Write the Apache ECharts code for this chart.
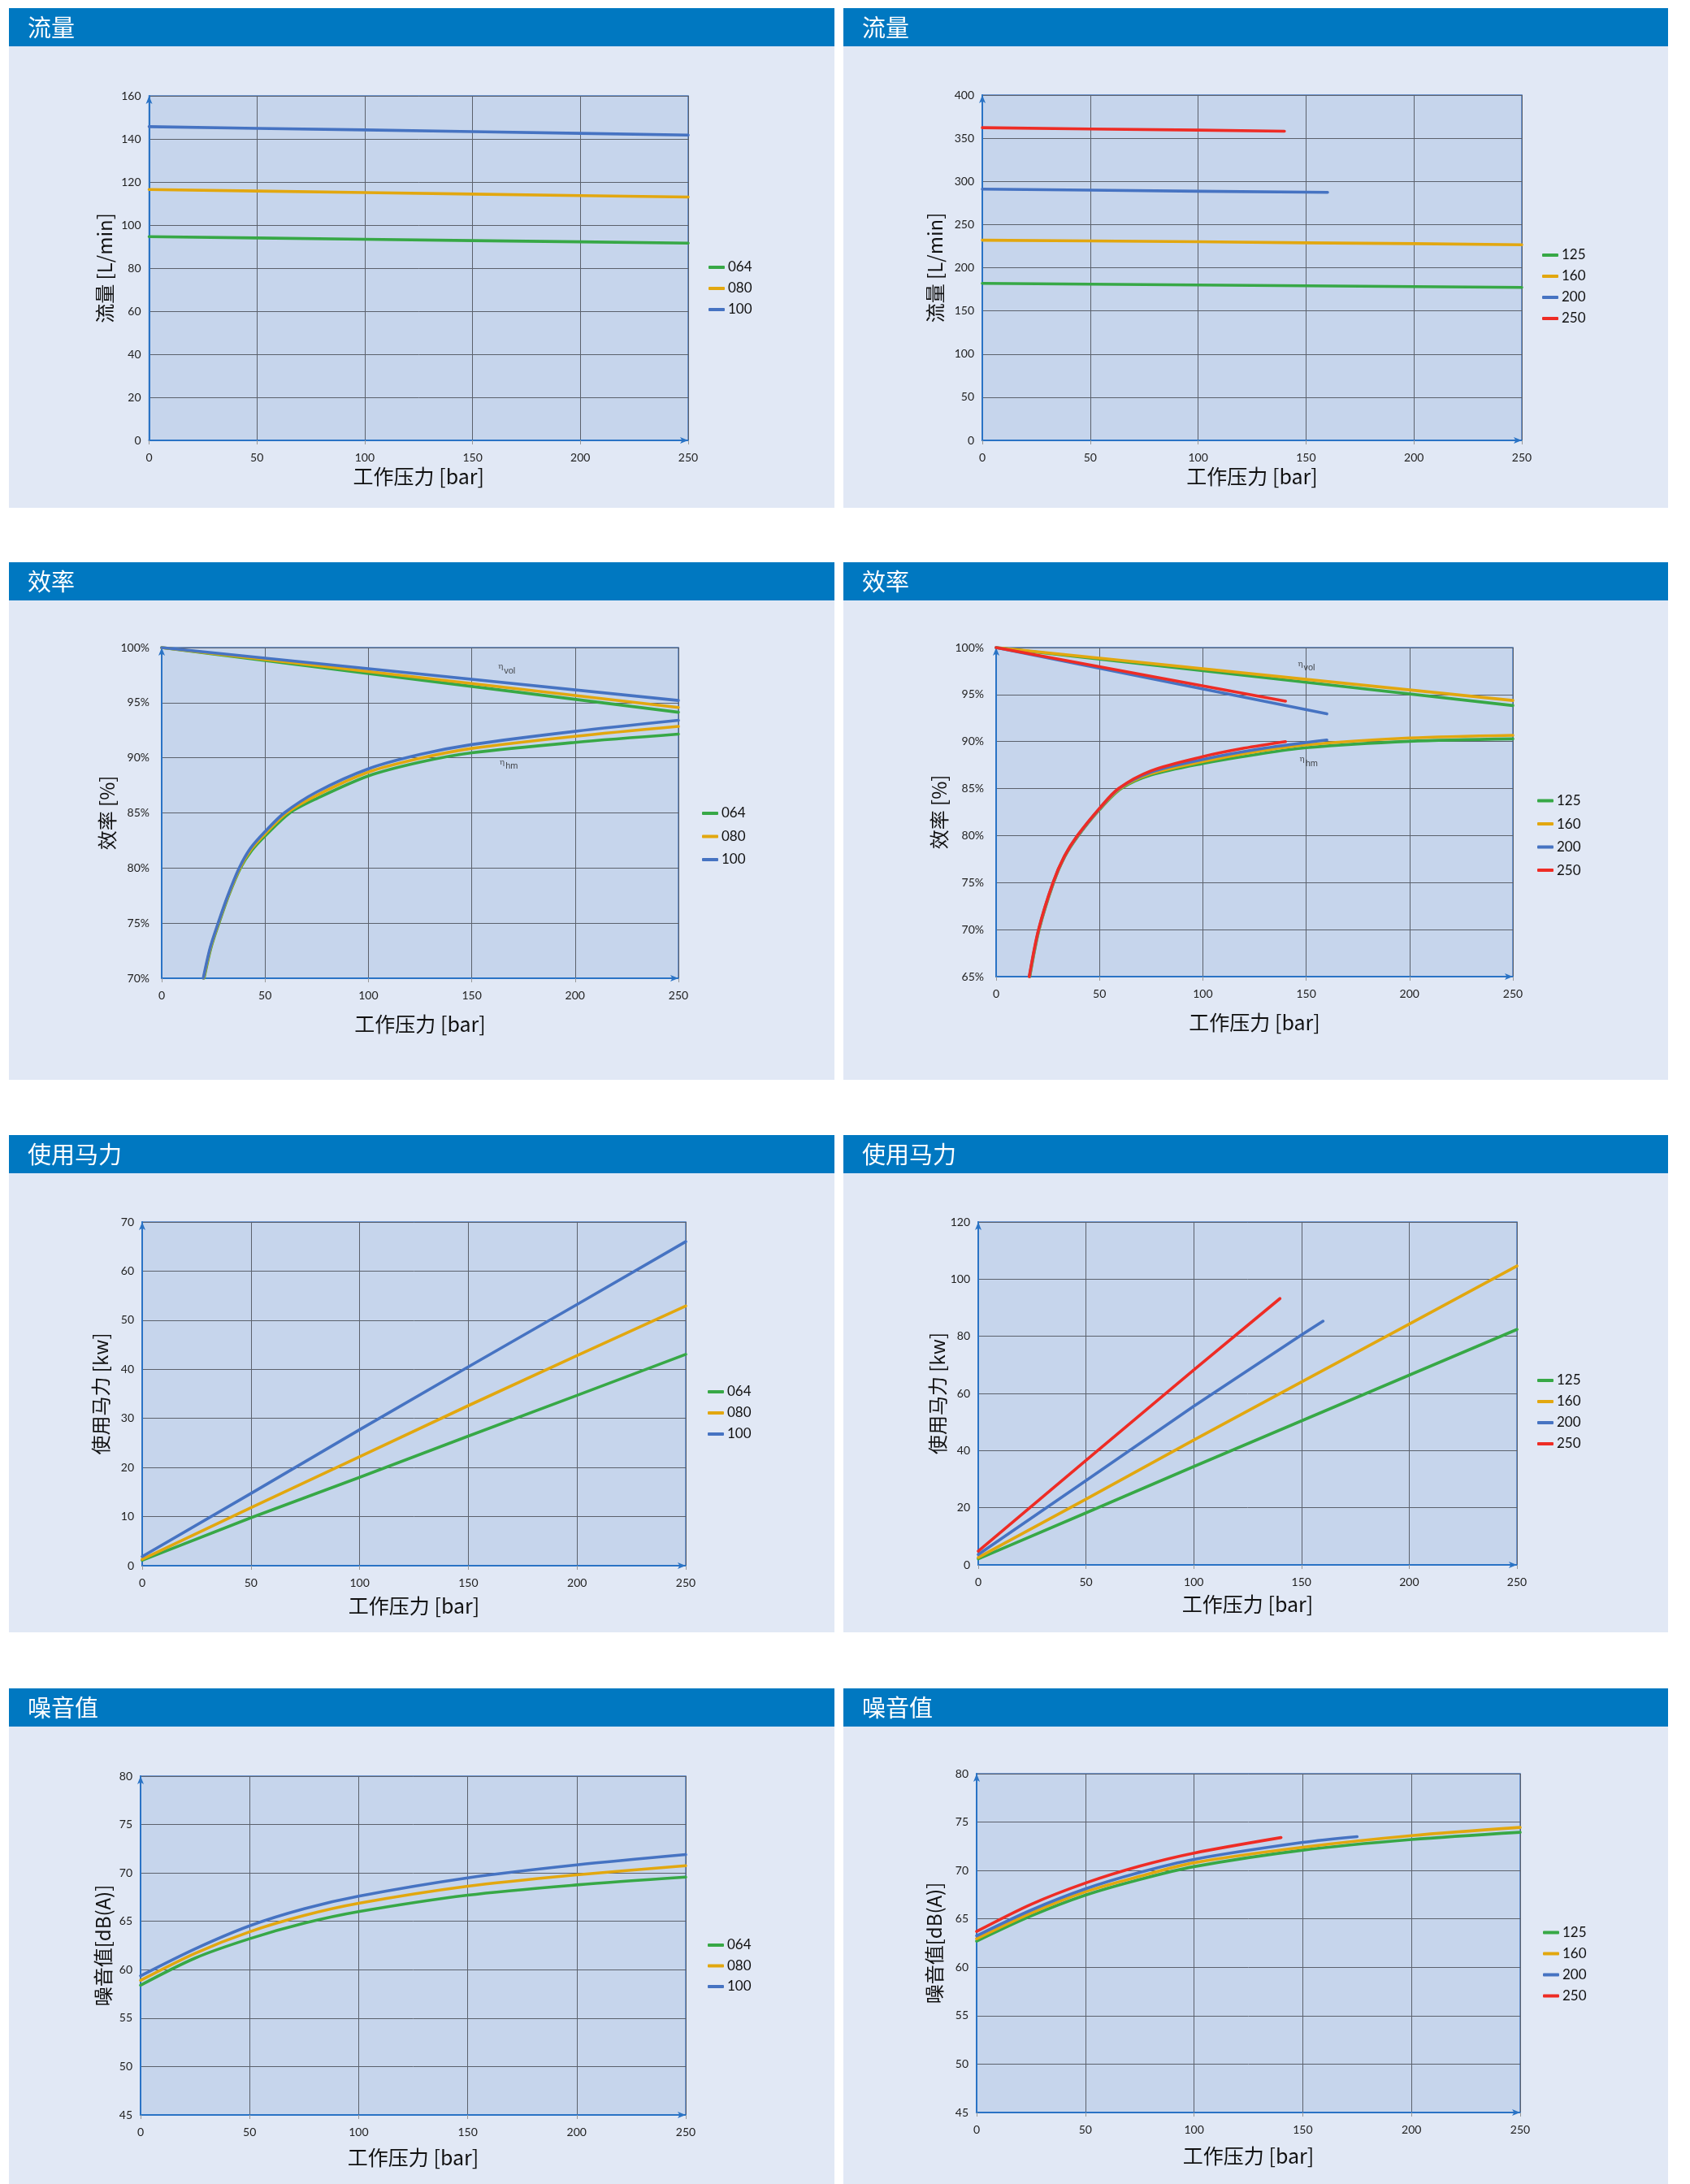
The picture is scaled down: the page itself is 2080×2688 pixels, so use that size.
<!DOCTYPE html>
<html><head><meta charset="utf-8">
<script src="https://cdn.jsdelivr.net/npm/echarts@6/dist/echarts.min.js"></script>
<style>html,body{margin:0;padding:0;background:#ffffff}#c{width:2080px;height:2688px}</style>
</head><body><div id="c"></div>
<script>
// ================= DATA =================
const HEADERS = ['流量','流量','效率','效率','使用马力','使用马力','噪音值','噪音值'];
const X_TITLE = '工作压力 [bar]';
const Y_TITLES = ['流量 [L/min]','流量 [L/min]','效率 [%]','效率 [%]','使用马力 [kw]','使用马力 [kw]','噪音值[dB(A)]','噪音值[dB(A)]'];
const SIZES_SMALL = ['064','080','100'];
const SIZES_LARGE = ['125','160','200','250'];
const X_MIN = 0, X_MAX = 250, X_STEP = 50;
const Y_MIN  = [0, 0, 70, 65, 0, 0, 45, 45];
const Y_MAX  = [160, 400, 100, 100, 70, 120, 80, 80];
const Y_STEP = [20, 50, 5, 5, 10, 20, 5, 5];
const ETA_TEXT = ['vol', 'hm'];

// --- 流量 (small pumps) ---
const flowS_x   = [0, 50, 100, 150, 200, 250];
const flowS_064 = [94.6, 94.0, 93.4, 92.8, 92.2, 91.6];
const flowS_080 = [116.5, 115.8, 115.1, 114.4, 113.7, 113.0];
const flowS_100 = [145.7, 144.9, 144.2, 143.4, 142.6, 141.8];
// --- 流量 (large pumps) ---
const flowL_x125 = [0, 50, 100, 150, 200, 250];
const flowL_125  = [181.9, 181.0, 180.0, 179.1, 178.1, 177.2];
const flowL_x160 = [0, 50, 100, 150, 200, 250];
const flowL_160  = [231.9, 231.0, 230.1, 228.8, 227.9, 226.6];
const flowL_x200 = [0, 50, 100, 150, 160];
const flowL_200  = [291.1, 289.9, 288.6, 287.6, 287.3];
const flowL_x250 = [0, 50, 100, 140];
const flowL_250  = [362.2, 360.7, 359.4, 358.1];

// --- 效率 (small pumps) ---
const effS_vol_x   = [0, 100, 250];
const effS_vol_064 = [100, 97.65, 94.13];
const effS_vol_080 = [100, 97.83, 94.57];
const effS_vol_100 = [100, 98.08, 95.2];
const effS_hm_x064 = [20.5, 23.9, 27.7, 32.4, 38.1, 43.6, 50, 62, 75, 100, 125, 150, 200, 250];
const effS_hm_064  = [70, 72.8, 75, 77.5, 80, 81.6, 82.9, 85, 86.3, 88.35, 89.6, 90.45, 91.4, 92.15];
const effS_hm_x080 = [20.3, 23.7, 27.5, 32.2, 37.8, 43.3, 50, 60.5, 75, 100, 125, 150, 200, 250];
const effS_hm_080  = [70, 72.8, 75, 77.5, 80, 81.7, 83.1, 85, 86.6, 88.7, 89.95, 90.85, 91.95, 92.85];
const effS_hm_x100 = [20.1, 23.5, 27.3, 32, 37.5, 43, 50, 59.3, 75, 100, 125, 150, 200, 250];
const effS_hm_100  = [70, 72.8, 75, 77.5, 80, 81.8, 83.3, 85, 86.9, 89.0, 90.3, 91.2, 92.4, 93.4];
const effS_eta     = [[167, 98.07], [168, 89.4]];

// --- 效率 (large pumps) ---
const effL_vol_x125 = [0, 150, 250];
const effL_vol_125  = [100, 96.3, 93.83];
const effL_vol_x160 = [0, 150, 250];
const effL_vol_160  = [100, 96.62, 94.37];
const effL_vol_x200 = [0, 160];
const effL_vol_200  = [100, 92.95];
const effL_vol_x250 = [0, 140];
const effL_vol_250  = [100, 94.3];
const effL_hm_x125 = [16.3, 20.8, 27.8, 33.3, 39.8, 50, 60.5, 75, 100, 125, 150, 200, 250];
const effL_hm_125  = [65, 70, 75, 77.8, 80, 82.75, 85, 86.45, 87.67, 88.6, 89.35, 90.03, 90.29];
const effL_hm_x160 = [16.2, 20.7, 27.7, 33.2, 39.6, 50, 60, 75, 100, 125, 150, 200, 250];
const effL_hm_160  = [65, 70, 75, 77.8, 80, 82.8, 85, 86.6, 87.87, 88.9, 89.65, 90.38, 90.67];
const effL_hm_x200 = [16.1, 20.6, 27.6, 33.1, 39.5, 50, 59.5, 75, 100, 130, 160];
const effL_hm_200  = [65, 70, 75, 77.8, 80, 82.85, 85, 86.75, 88.1, 89.3, 90.17];
const effL_hm_x250 = [16, 20.5, 27.5, 33, 39.3, 50, 59.2, 75, 100, 120, 140];
const effL_hm_250  = [65, 70, 75, 77.8, 80, 82.9, 85, 86.9, 88.4, 89.3, 90.0];
const effL_eta     = [[150.2, 98.03], [151.3, 87.9]];

// --- 使用马力 (small pumps) ---
const powS_x   = [0, 50, 100, 150, 200, 250];
const powS_064 = [1.1, 9.76, 18.0, 26.4, 34.7, 43.05];
const powS_080 = [1.3, 11.8, 22.2, 32.6, 42.8, 52.9];
const powS_100 = [1.87, 14.7, 27.7, 40.5, 53.2, 66.0];
// --- 使用马力 (large pumps) ---
const powL_x125 = [0, 50, 100, 150, 200, 250];
const powL_125  = [2.1, 18.2, 34.4, 50.4, 66.4, 82.4];
const powL_x160 = [0, 50, 100, 150, 200, 250];
const powL_160  = [2.6, 23.0, 43.7, 64.0, 84.3, 104.6];
const powL_x200 = [0, 50, 100, 150, 160];
const powL_200  = [3.6, 29.5, 55.5, 80.5, 85.3];
const powL_x250 = [0, 50, 100, 140];
const powL_250  = [4.8, 36.6, 68.2, 93.2];

// --- 噪音值 (small pumps) ---
const noiS_x   = [0, 25, 50, 75, 100, 150, 200, 250];
const noiS_064 = [58.4, 61.2, 63.2, 64.8, 66.0, 67.7, 68.76, 69.57];
const noiS_080 = [58.9, 61.7, 63.92, 65.6, 66.86, 68.62, 69.8, 70.75];
const noiS_100 = [59.37, 62.16, 64.54, 66.3, 67.6, 69.49, 70.83, 71.9];
// --- 噪音值 (large pumps) ---
const noiL_x125 = [0, 25, 50, 75, 100, 150, 200, 250];
const noiL_125  = [62.7, 65.3, 67.45, 69.07, 70.4, 72.1, 73.2, 73.95];
const noiL_x160 = [0, 25, 50, 75, 100, 150, 200, 250];
const noiL_160  = [62.95, 65.6, 67.8, 69.4, 70.8, 72.4, 73.6, 74.45];
const noiL_x200 = [0, 25, 50, 75, 100, 150, 175];
const noiL_200  = [63.25, 65.9, 68.1, 69.8, 71.15, 72.9, 73.5];
const noiL_x250 = [0, 25, 50, 75, 100, 140];
const noiL_250  = [63.7, 66.5, 68.7, 70.45, 71.8, 73.4];

// ================= STYLE / LAYOUT =================
const COLORS = {'064':'#37a846','080':'#e2a70f','100':'#4673c2','125':'#37a846','160':'#e2a70f','200':'#4673c2','250':'#ee2c25'};
const HEADER_BLUE = '#0078c1', BODY_BG = '#e1e8f5', PLOT_BG = '#c6d5ec';
const AXIS_BLUE = '#2a73c5', BORDER_BLUE = '#4a7bc2', GRID_GRAY = '#5b616c';
const NUM_FONT = 'Lato, "Liberation Sans", sans-serif';
const CJK_FONT = '"Noto Sans CJK SC", "Noto Sans", sans-serif';

const COL_X = [11, 1038], COL_W = [1016, 1015];
const ROWS = [{top:10, bottom:625}, {top:692, bottom:1329}, {top:1397, bottom:2009}, {top:2078, bottom:2688}];
const HEADER_H = 47;
const GRIDS = [
  {left:183.5, top:118, width:663.5, height:424},
  {left:1209, top:117, width:664, height:425},
  {left:199, top:797, width:636, height:407},
  {left:1226, top:797, width:636, height:405},
  {left:175, top:1504, width:669, height:423},
  {left:1204, top:1504, width:663, height:422},
  {left:173, top:2186, width:671, height:417},
  {left:1202, top:2183, width:669, height:417}
];
const X_NAME_GAP = [32, 32, 44, 44, 37, 36, 40, 41];
const Y_NAME_GAP = [43, 46, 55, 58, 39, 38, 34, 40];
const Y_LABEL_MARGIN = [10, 10, 15, 15, 10, 10, 10, 10];
const LEGEND_POS = [[872,320,8],[1898,305,8],[864,992,10.5],[1892,976.6,10.5],[871,1704,8],[1892,1690,8],[871,2385,7.5],[1899,2369.5,8]];

// ================= BUILD =================
const graphics = [];
const titles = [];
for (let r = 0; r < 4; r++) {
  for (let c = 0; c < 2; c++) {
    const p = r * 2 + c;
    const row = ROWS[r];
    graphics.push({type:'rect', z:-10, silent:true, shape:{x:COL_X[c], y:row.top, width:COL_W[c], height:row.bottom-row.top}, style:{fill:BODY_BG}});
    graphics.push({type:'rect', z:-9, silent:true, shape:{x:COL_X[c], y:row.top, width:COL_W[c], height:HEADER_H}, style:{fill:HEADER_BLUE}});
    titles.push({text:HEADERS[p], left:COL_X[c]+23, top:row.top, padding:0,
      textStyle:{color:'#ffffff', fontFamily:CJK_FONT, fontSize:29, fontWeight:'normal', lineHeight:HEADER_H}});
  }
}

const grids = [], xAxes = [], yAxes = [], legends = [], series = [];
for (let p = 0; p < 8; p++) {
  grids.push(Object.assign({show:true, backgroundColor:PLOT_BG, borderColor:BORDER_BLUE, borderWidth:1.5, containLabel:false, outerBoundsMode:'none'}, GRIDS[p]));
  xAxes.push({type:'value', gridIndex:p, min:X_MIN, max:X_MAX, interval:X_STEP,
    name:X_TITLE, nameLocation:'middle', nameGap:X_NAME_GAP[p],
    nameTextStyle:{fontFamily:CJK_FONT, fontSize:25, color:'#111'},
    axisLine:{show:true, onZero:false, symbol:['none','arrow'], symbolSize:[6,10], lineStyle:{color:AXIS_BLUE, width:2}},
    axisTick:{show:true, length:5, lineStyle:{color:'#999'}},
    axisLabel:{margin:14, fontFamily:NUM_FONT, fontSize:14, color:'#222'},
    splitLine:{show:true, lineStyle:{color:GRID_GRAY, width:1}}
  });
  const isEff = (p === 2 || p === 3);
  yAxes.push({type:'value', gridIndex:p, min:Y_MIN[p], max:Y_MAX[p], interval:Y_STEP[p],
    name:Y_TITLES[p], nameLocation:'middle', nameGap:Y_NAME_GAP[p],
    nameTextStyle:{fontFamily:CJK_FONT, fontSize:24, color:'#111'},
    axisLine:{show:true, onZero:false, symbol:['none','arrow'], symbolSize:[6,10], lineStyle:{color:AXIS_BLUE, width:2}},
    axisTick:{show:false},
    axisLabel:{margin:Y_LABEL_MARGIN[p], fontFamily:NUM_FONT, fontSize:14, color:'#222', formatter: isEff ? '{value}%' : '{value}'},
    splitLine:{show:true, lineStyle:{color:GRID_GRAY, width:1}}
  });
  const names = (p % 2 === 0) ? SIZES_SMALL : SIZES_LARGE;
  const lp = LEGEND_POS[p];
  legends.push({orient:'vertical', left:lp[0], top:lp[1], itemGap:lp[2], padding:0,
    itemWidth:20, itemHeight:4, icon:'roundRect', selectedMode:false,
    data:names, textStyle:{fontFamily:NUM_FONT, fontSize:17, lineHeight:18, color:'#111', padding:[0,0,0,-1]}});
}

function line(g, name, xs, ys, curved) {
  series.push({name:name, type:'line', xAxisIndex:g, yAxisIndex:g,
    data: xs.map((x, i) => [x, ys[i]]),
    symbol:'none', showSymbol:false, smooth: curved ? 0.3 : false,
    lineStyle:{color:COLORS[name], width:3.6, cap:'round', join:'round'}, itemStyle:{color:COLORS[name]},
    emphasis:{disabled:true}, silent:true, animation:false});
}
function eta(g, pts) {
  series.push({name:'eta'+g, type:'scatter', xAxisIndex:g, yAxisIndex:g, silent:true, animation:false,
    symbolSize:1, itemStyle:{color:'rgba(0,0,0,0)'},
    data: pts,
    label:{show:true, position:'inside',
      formatter: (prm) => '{e|η}{s|' + ETA_TEXT[prm.dataIndex] + '}',
      rich:{
        e:{fontFamily:NUM_FONT, fontSize:10, color:'#222', verticalAlign:'top', lineHeight:16},
        s:{fontFamily:'"Liberation Sans", sans-serif', fontSize:11, color:'#222', verticalAlign:'bottom', lineHeight:16, padding:[0,0,0,1]}
      }}
  });
}

// panel 0: 流量 small
line(0,'064',flowS_x,flowS_064); line(0,'080',flowS_x,flowS_080); line(0,'100',flowS_x,flowS_100);
// panel 1: 流量 large
line(1,'125',flowL_x125,flowL_125); line(1,'160',flowL_x160,flowL_160); line(1,'200',flowL_x200,flowL_200); line(1,'250',flowL_x250,flowL_250);
// panel 2: 效率 small
line(2,'064',effS_vol_x,effS_vol_064); line(2,'080',effS_vol_x,effS_vol_080); line(2,'100',effS_vol_x,effS_vol_100);
line(2,'064',effS_hm_x064,effS_hm_064,true); line(2,'080',effS_hm_x080,effS_hm_080,true); line(2,'100',effS_hm_x100,effS_hm_100,true);
eta(2, effS_eta);
// panel 3: 效率 large
line(3,'125',effL_vol_x125,effL_vol_125); line(3,'160',effL_vol_x160,effL_vol_160); line(3,'200',effL_vol_x200,effL_vol_200); line(3,'250',effL_vol_x250,effL_vol_250);
line(3,'125',effL_hm_x125,effL_hm_125,true); line(3,'160',effL_hm_x160,effL_hm_160,true); line(3,'200',effL_hm_x200,effL_hm_200,true); line(3,'250',effL_hm_x250,effL_hm_250,true);
eta(3, effL_eta);
// panel 4: 使用马力 small
line(4,'064',powS_x,powS_064); line(4,'080',powS_x,powS_080); line(4,'100',powS_x,powS_100);
// panel 5: 使用马力 large
line(5,'125',powL_x125,powL_125); line(5,'160',powL_x160,powL_160); line(5,'200',powL_x200,powL_200); line(5,'250',powL_x250,powL_250);
// panel 6: 噪音值 small
line(6,'064',noiS_x,noiS_064,true); line(6,'080',noiS_x,noiS_080,true); line(6,'100',noiS_x,noiS_100,true);
// panel 7: 噪音值 large
line(7,'125',noiL_x125,noiL_125,true); line(7,'160',noiL_x160,noiL_160,true); line(7,'200',noiL_x200,noiL_200,true); line(7,'250',noiL_x250,noiL_250,true);

const chart = echarts.init(document.getElementById('c'), null, {renderer:'canvas', width:2080, height:2688, devicePixelRatio:1});
chart.setOption({
  animation:false,
  backgroundColor:'#ffffff',
  graphic: graphics,
  title: titles,
  grid: grids,
  xAxis: xAxes,
  yAxis: yAxes,
  legend: legends,
  series: series
});
</script></body></html>
